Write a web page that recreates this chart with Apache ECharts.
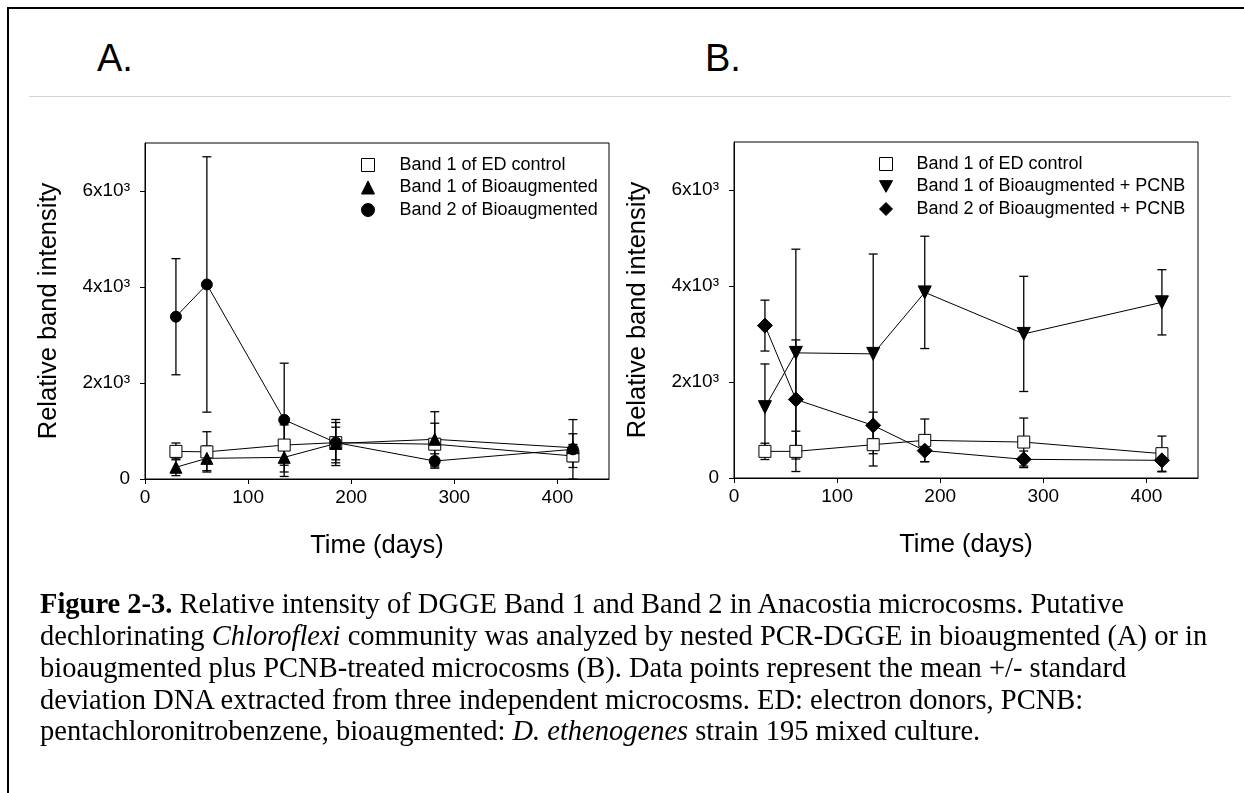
<!DOCTYPE html>
<html>
<head>
<meta charset="utf-8">
<script src="https://cdn.jsdelivr.net/npm/echarts@6/dist/echarts.min.js"></script>
<style>
  html, body { margin:0; padding:0; background:#fff; }
  body { width:1244px; height:793px; position:relative; overflow:hidden; }
  #chart { position:absolute; left:0; top:0; width:1244px; height:793px; }
  .panel { position:absolute; font-family:'Liberation Sans', Arial, sans-serif; font-size:38px; line-height:38px; color:#000; }
  .cap { position:absolute; left:40px; font-family:'Liberation Serif', 'Times New Roman', serif; font-size:28.5px; line-height:32px; color:#000; white-space:nowrap; }
</style>
</head>
<body>
<div style="position:absolute;left:7px;top:7px;width:1250px;height:800px;border-left:2px solid #000;border-top:2px solid #000;"></div>
<div style="position:absolute;left:29px;top:96px;width:1202px;height:1px;background:#d4d4d4;"></div>
<div class="panel" style="left:97px;top:39px;">A.</div>
<div class="panel" style="left:705px;top:39px;">B.</div>
<div id="chart"></div>
<div class="cap" style="top:588px;"><b>Figure 2-3.</b> Relative intensity of DGGE Band 1 and Band 2 in Anacostia microcosms. Putative</div>
<div class="cap" style="top:620px;">dechlorinating <i>Chloroflexi</i> community was analyzed by nested PCR-DGGE in bioaugmented (A) or in</div>
<div class="cap" style="top:652px;">bioaugmented plus PCNB-treated microcosms (B). Data points represent the mean +/- standard</div>
<div class="cap" style="top:684px;">deviation DNA extracted from three independent microcosms. ED: electron donors, PCNB:</div>
<div class="cap" style="top:715px;">pentachloronitrobenzene, bioaugmented: <i>D. ethenogenes</i> strain 195 mixed culture.</div>
<script>
// ---- data ----
const days = [30, 60, 135, 185, 281, 415];
const xTicks = [0, 100, 200, 300, 400];
const yTicks = [0, 2000, 4000, 6000];

// Panel A
const edA = [575, 565, 707, 757, 725, 480];
const edA_sd = [175, 420, 420, 420, 437, 240];
const bio1A = [245, 430, 451, 740, 827, 652];
const bio1A_sd = [175, 257, 305, 340, 575, 290];
const bio2A = [3381, 4053, 1233, 760, 375, 618];
const bio2A_sd = [1210, 2660, 1180, 480, 150, 620];

// Panel B
const edB = [555, 555, 694, 784, 749, 507];
const edB_sd = [170, 420, 444, 445, 500, 366];
const bio1B = [1476, 2607, 2586, 3867, 3002, 3660];
const bio1B_sd = [900, 2160, 2080, 1170, 1200, 680];
const bio2B = [3175, 1636, 1096, 570, 389, 368];
const bio2B_sd = [530, 1240, 276, 230, 173, 240];

const namesA = ['Band 1 of ED control', 'Band 1 of Bioaugmented', 'Band 2 of Bioaugmented'];
const namesB = ['Band 1 of ED control', 'Band 1 of Bioaugmented + PCNB', 'Band 2 of Bioaugmented + PCNB'];

// ---- chart ----
const FONT = 'Liberation Sans';
const chart = echarts.init(document.getElementById('chart'), null, {renderer:'canvas'});

function pts(vals){ return days.map((d,i)=>[d, vals[i]]); }
function errPts(vals, sd){ return days.map((d,i)=>[d, vals[i], sd[i]]); }

const invTri = 'path://M0,0 L10,0 L5,9 Z';

function lineSeries(name, vals, gi, symbol, size, fill){
  return {
    type:'line', name, xAxisIndex:gi, yAxisIndex:gi, data:pts(vals),
    symbol, symbolSize:size, showAllSymbol:true,
    lineStyle:{color:'#000', width:1},
    itemStyle:{color:fill, borderColor:'#000', borderWidth:1, opacity:1},
    emphasis:{disabled:true}, animation:false, z:5
  };
}
function errSeries(vals, sd, gi){
  return {
    type:'custom', xAxisIndex:gi, yAxisIndex:gi, data:errPts(vals, sd), clip:true,
    animation:false, silent:true, z:3,
    renderItem:function(params, api){
      const x = api.value(0), y = api.value(1), s = api.value(2);
      const top = api.coord([x, y + s]);
      const bot = api.coord([x, y - s]);
      const hw = 4.5;
      const st = {stroke:'#000', lineWidth:1.3};
      return {type:'group', children:[
        {type:'line', shape:{x1:top[0], y1:top[1], x2:bot[0], y2:bot[1]}, style:st},
        {type:'line', shape:{x1:top[0]-hw, y1:top[1], x2:top[0]+hw, y2:top[1]}, style:st},
        {type:'line', shape:{x1:bot[0]-hw, y1:bot[1], x2:bot[0]+hw, y2:bot[1]}, style:st}
      ]};
    }
  };
}

function xAxis(gi){
  return {
    type:'value', gridIndex:gi, min:0, max:450,
    name:'Time (days)', nameLocation:'middle', nameGap:54,
    nameTextStyle:{fontFamily:FONT, fontSize:25.5, color:'#000'},
    axisLine:{show:true, onZero:false, lineStyle:{color:'#000', width:1}},
    axisTick:{show:true, length:5, customValues:xTicks, lineStyle:{color:'#000'}},
    axisLabel:{margin:9, customValues:xTicks, fontFamily:FONT, fontSize:19, color:'#000'},
    splitLine:{show:false}
  };
}
function yAxis(gi){
  return {
    type:'value', gridIndex:gi, min:0, max:7000,
    name:'Relative band intensity', nameLocation:'middle', nameGap:83,
    nameTextStyle:{fontFamily:FONT, fontSize:25.5, color:'#000'},
    axisLine:{show:true, lineStyle:{color:'#000', width:1}},
    axisTick:{show:true, length:5, customValues:yTicks, lineStyle:{color:'#000'}},
    axisLabel:{margin:15, customValues:yTicks, fontFamily:FONT, fontSize:19, color:'#000',
      formatter:function(v){ return v === 0 ? '0' : (v/1000) + 'x10³'; }},
    splitLine:{show:false}
  };
}
function legend(names, left, top, pad, icons){
  return {
    orient:'vertical', left:left, top:top, itemGap:4.5, itemWidth:13, itemHeight:13,
    selectedMode:false,
    textStyle:{fontFamily:FONT, fontSize:18, color:'#000', padding:[0,0,0,pad]},
    data:names.map((n,i)=>({name:n, icon:icons[i].icon,
      itemStyle:{color:icons[i].fill, borderColor:'#000', borderWidth:1}}))
  };
}

const option = {
  backgroundColor:'transparent',
  animation:false,
  grid:[
    {left:145, top:143, width:464, height:336, show:true, borderColor:'#000', borderWidth:1, backgroundColor:'transparent'},
    {left:734, top:142, width:464, height:336, show:true, borderColor:'#000', borderWidth:1, backgroundColor:'transparent'}
  ],
  xAxis:[xAxis(0), xAxis(1)],
  yAxis:[yAxis(0), yAxis(1)],
  legend:[
    legend(namesA, 356, 151, 20, [{icon:'rect', fill:'#fff'}, {icon:'triangle', fill:'#000'}, {icon:'circle', fill:'#000'}]),
    legend(namesB, 874, 150, 19, [{icon:'rect', fill:'#fff'}, {icon:invTri, fill:'#000'}, {icon:'diamond', fill:'#000'}])
  ],
  series:[
    errSeries(edA, edA_sd, 0),
    errSeries(bio1A, bio1A_sd, 0),
    errSeries(bio2A, bio2A_sd, 0),
    lineSeries(namesA[0], edA, 0, 'rect', 12, '#fff'),
    lineSeries(namesA[1], bio1A, 0, 'triangle', 12, '#000'),
    lineSeries(namesA[2], bio2A, 0, 'circle', 11, '#000'),
    errSeries(edB, edB_sd, 1),
    errSeries(bio1B, bio1B_sd, 1),
    errSeries(bio2B, bio2B_sd, 1),
    lineSeries(namesB[0], edB, 1, 'rect', 12, '#fff'),
    lineSeries(namesB[1], bio1B, 1, invTri, 13, '#000'),
    lineSeries(namesB[2], bio2B, 1, 'diamond', 15, '#000')
  ]
};
chart.setOption(option);
</script>
</body>
</html>
